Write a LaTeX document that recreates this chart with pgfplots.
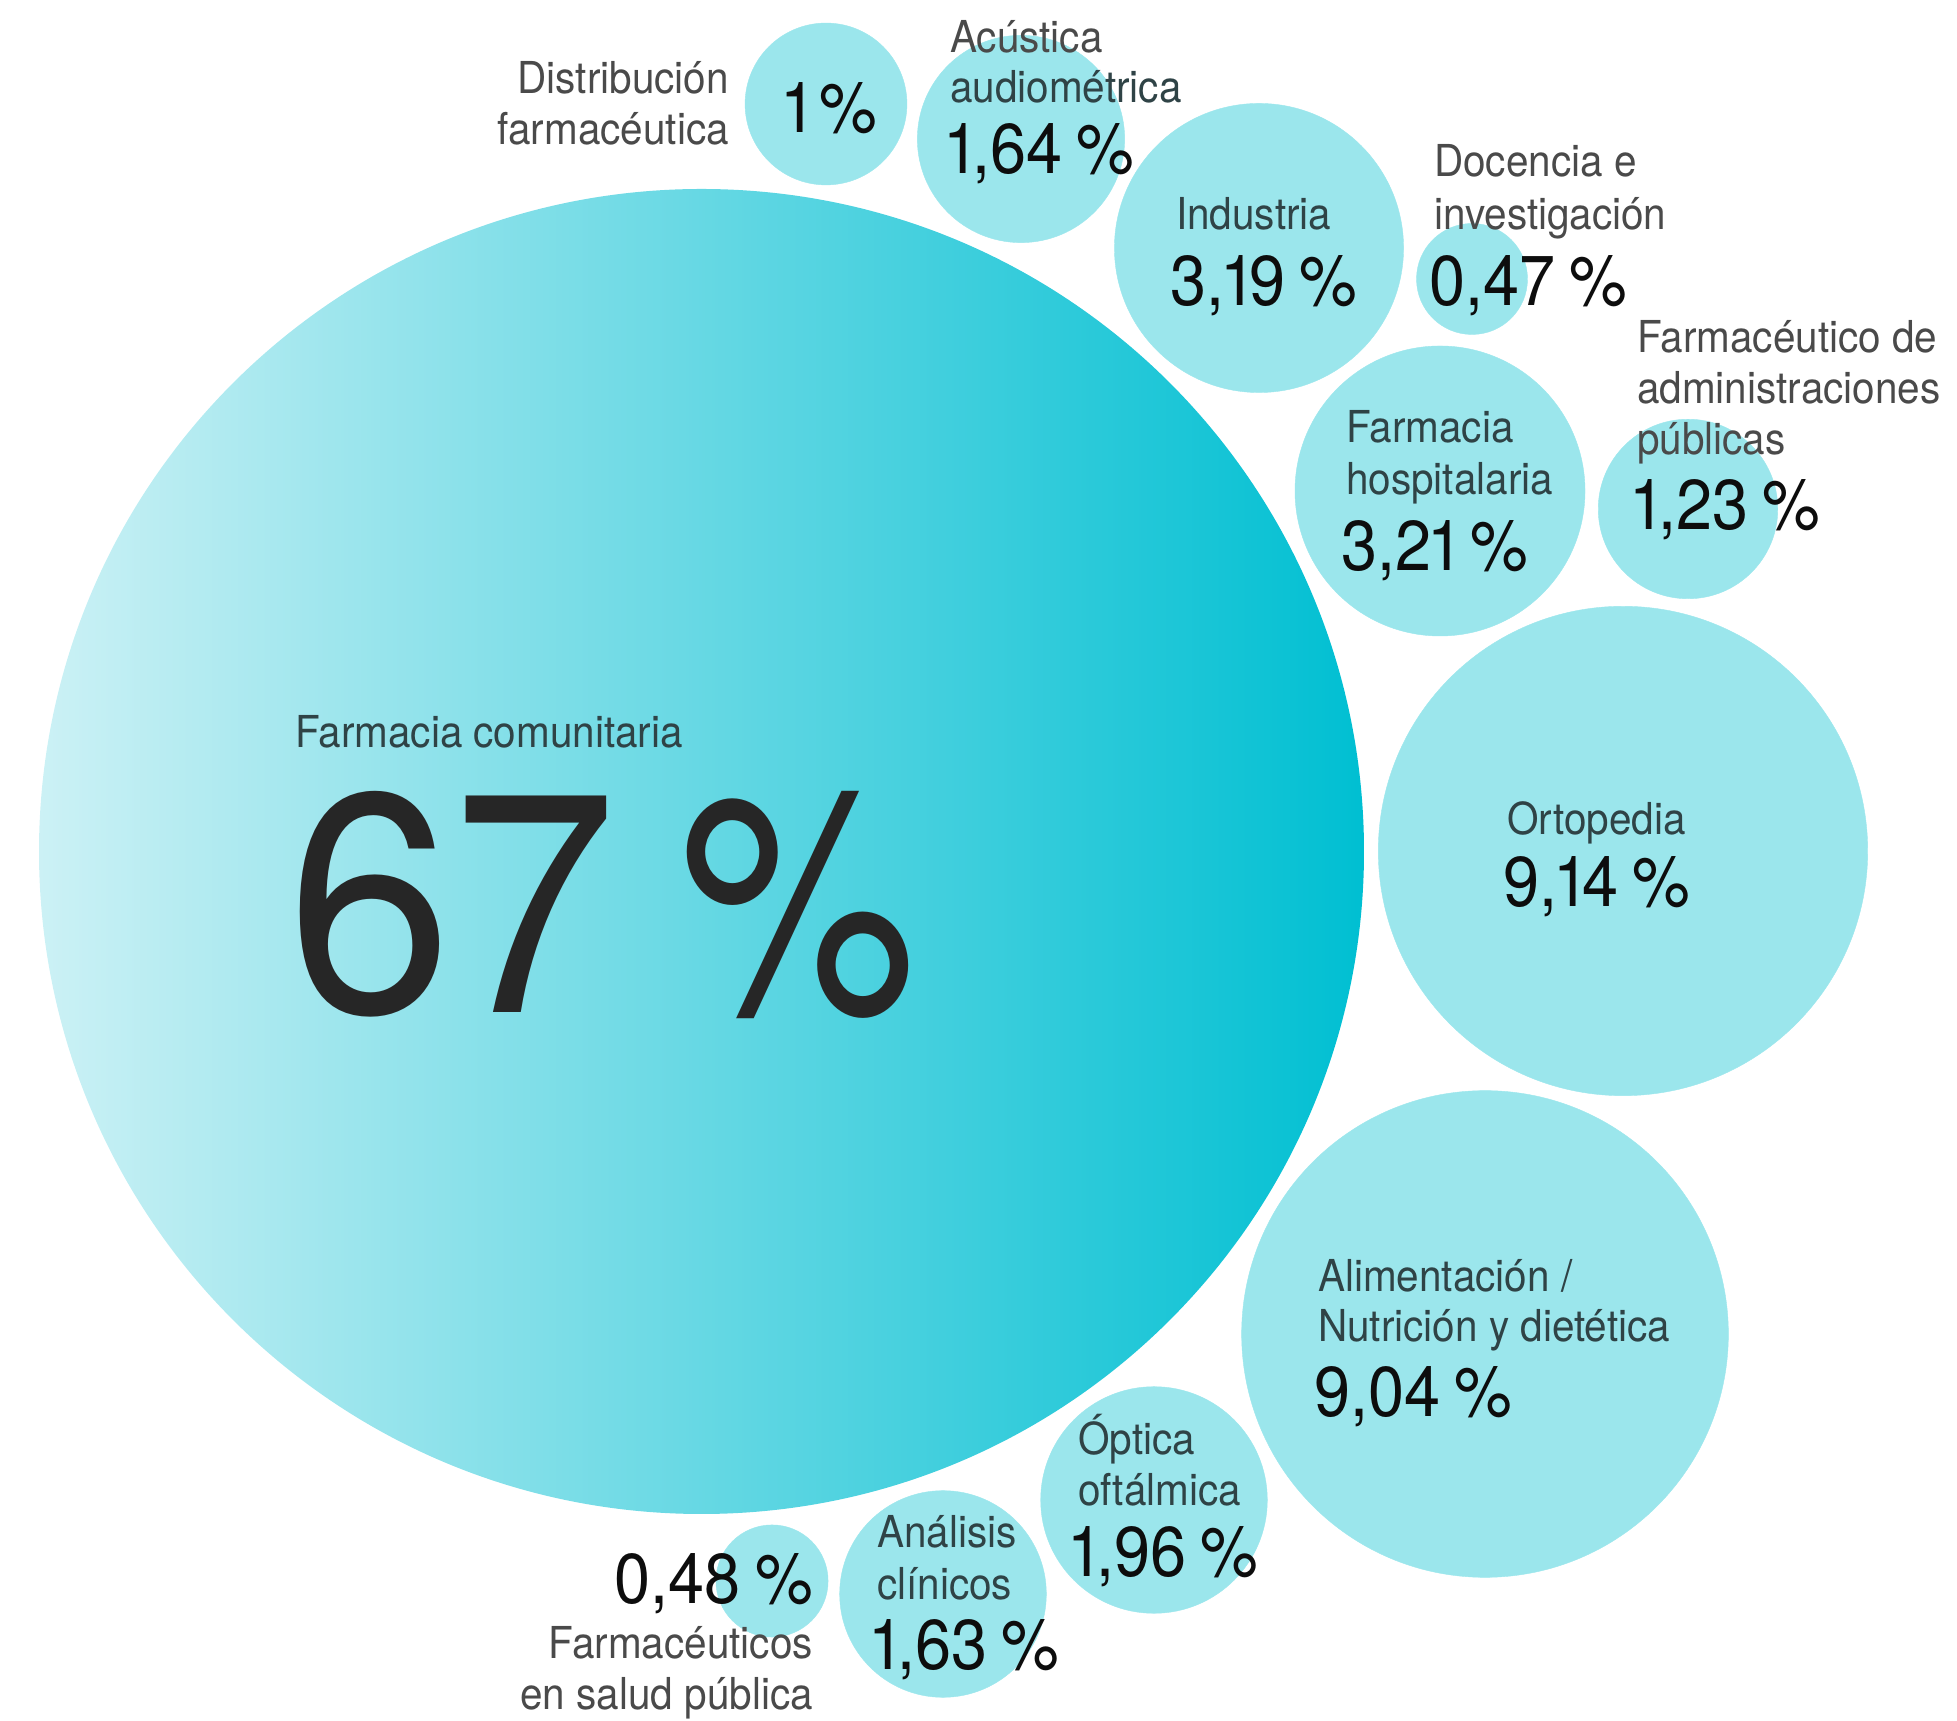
\documentclass[border=0pt]{standalone}
\usepackage{fontspec}
\usepackage{pgfplots}
\usepackage{pgfplotstable}
\pgfplotsset{compat=1.18}

\newfontfamily\hf[FakeStretch=0.92]{TeX Gyre Heros}
\newfontfamily\hfbig[FakeStretch=0.95]{TeX Gyre Heros}
\newcommand\lab{\hf\fontsize{44}{51}\selectfont}
\newcommand\num{\hf\fontsize{70.5}{80}\selectfont}
\newcommand\pc{\hspace{0.2em}\%}
\newcommand\one{\kern-0.05em 1\kern-0.1em}

\definecolor{bubble}{HTML}{9BE6EC}
\definecolor{shadeL}{HTML}{CCF1F5}
\definecolor{shadeR}{HTML}{00BFD2}
\definecolor{labin}{HTML}{2F4346}
\definecolor{labout}{HTML}{4A4A4A}
\definecolor{numc}{HTML}{0D0D0D}
\definecolor{bignum}{HTML}{262626}

% bounding box of the path sits on the middle 50bp of the shading
\pgfdeclarehorizontalshading{bigshade}{100bp}{color(0bp)=(shadeL); color(25bp)=(shadeL); color(75bp)=(shadeR); color(100bp)=(shadeR)}
\pgfdeclareplotmark{shadedcircle}{%
  \pgfpathcircle{\pgfpointorigin}{\pgfplotmarksize}%
  \pgfshadepath{bigshade}{0}%
  \pgfusepath{discard}}

% bubble centres in pixels (y down), share in percent
\pgfplotstableread{
x     y     v
826   104   1.00
1021  139   1.64
1259  248   3.19
1472  279   0.47
1440  491   3.21
1688  509   1.23
1623  851   9.14
1485  1334  9.04
1154  1500  1.96
943   1594  1.63
772   1581  0.48
}\bubbles

\begin{document}
\begin{tikzpicture}
\begin{axis}[
  width=1957pt, height=1721pt, scale only axis,
  xmin=0, xmax=1957, ymin=0, ymax=1721,
  y dir=reverse,
  hide axis, clip=false, set layers,
]
  \path (rel axis cs:0,0) (rel axis cs:1,1);

  % Farmacia comunitaria, radius 80.94*sqrt(67)
  \addplot[only marks, mark=shadedcircle, mark size=662.5] coordinates {(701.5,851.5)};

  \addplot[
    scatter, only marks, mark=*,
    point meta=\thisrow{v},
    scatter/use mapped color={draw=bubble, fill=bubble},
    visualization depends on={80.94*sqrt(\thisrow{v}) \as \rad},
    scatter/@pre marker code/.append style={/tikz/mark size=\rad},
  ] table[x=x, y=y] {\bubbles};

  \tikzset{lw/.style={anchor=base west, inner sep=0pt},
           le/.style={anchor=base east, inner sep=0pt}}

  \begin{pgfonlayer}{axis foreground}
  % Farmacia comunitaria
  \node[lw, text=labin, font=\hf\fontsize{44}{51}\selectfont] at (axis cs:295,748) {Farmacia comunitaria};
  \node[lw, text=bignum, font=\hfbig\fontsize{312}{320}\selectfont] at (axis cs:287,1013) {67\hspace{0.2em}\scalebox{0.9}[1]{\%}};

  % Distribución farmacéutica
  \node[le, text=labout, font=\lab] at (axis cs:729,94) {Distribución};
  \node[le, text=labout, font=\lab] at (axis cs:729,145) {farmacéutica};
  \node[lw, text=numc, font=\num] at (axis cs:780,133) {1\hspace{0.05em}\%};

  % Acústica audiométrica
  \node[lw, text=labout, font=\lab] at (axis cs:950,53) {Acústica};
  \node[lw, text=labin, font=\lab] at (axis cs:950,103) {audiométrica};
  \node[lw, text=numc, font=\num] at (axis cs:947,174) {\one,64\pc};

  % Industria
  \node[lw, text=labin, font=\lab] at (axis cs:1176,230) {Industria};
  \node[lw, text=numc, font=\num] at (axis cs:1170,306) {3,\one 9\pc};

  % Docencia e investigación
  \node[lw, text=labout, font=\lab] at (axis cs:1434,177) {Docencia e};
  \node[lw, text=labout, font=\lab] at (axis cs:1434,230) {investigación};
  \node[lw, text=numc, font=\num] at (axis cs:1429,306) {0,47\pc};

  % Farmacia hospitalaria
  \node[lw, text=labin, font=\lab] at (axis cs:1346,443) {Farmacia};
  \node[lw, text=labin, font=\lab] at (axis cs:1346,495) {hospitalaria};
  \node[lw, text=numc, font=\num] at (axis cs:1341,571) {3,2\one\pc};

  % Farmacéutico de administraciones públicas
  \node[lw, text=labout, font=\lab] at (axis cs:1637,353) {Farmacéutico de};
  \node[lw, text=labout, font=\lab] at (axis cs:1637,404) {administraciones};
  \node[lw, text=labout, font=\lab] at (axis cs:1637,455) {públicas};
  \node[lw, text=numc, font=\num] at (axis cs:1633,530) {\one,23\pc};

  % Ortopedia
  \node[lw, text=labin, font=\lab] at (axis cs:1507,835) {Ortopedia};
  \node[lw, text=numc, font=\num] at (axis cs:1503,907) {9,\one 4\pc};

  % Alimentación / Nutrición y dietética
  \node[lw, text=labin, font=\lab] at (axis cs:1318,1292) {Alimentación /};
  \node[lw, text=labin, font=\lab] at (axis cs:1318,1342) {Nutrición y dietética};
  \node[lw, text=numc, font=\num] at (axis cs:1314,1417) {9,04\pc};

  % Óptica oftálmica
  \node[lw, text=labin, font=\lab] at (axis cs:1078,1455) {Óptica};
  \node[lw, text=labin, font=\lab] at (axis cs:1078,1506) {oftálmica};
  \node[lw, text=numc, font=\num] at (axis cs:1071,1577) {\one,96\pc};

  % Análisis clínicos
  \node[lw, text=labin, font=\lab] at (axis cs:877,1548) {Análisis};
  \node[lw, text=labin, font=\lab] at (axis cs:877,1600) {clínicos};
  \node[lw, text=numc, font=\num] at (axis cs:872,1670) {\one,63\pc};

  % Farmacéuticos en salud pública
  \node[le, text=numc, font=\num] at (axis cs:813,1604) {0,48\pc};
  \node[le, text=labout, font=\lab] at (axis cs:813,1659) {Farmacéuticos};
  \node[le, text=labout, font=\lab] at (axis cs:813,1710) {en salud pública};
  \end{pgfonlayer}
\end{axis}
\end{tikzpicture}
\end{document}
